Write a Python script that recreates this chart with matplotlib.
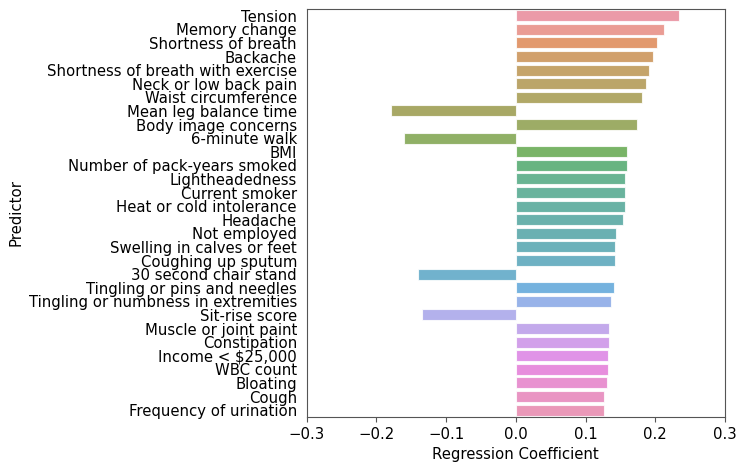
import matplotlib
matplotlib.use("Agg")
import matplotlib.pyplot as plt
import seaborn as sns
import pandas as pd

predictors = [
    "Tension", "Memory change", "Shortness of breath", "Backache",
    "Shortness of breath with exercise", "Neck or low back pain",
    "Waist circumference", "Mean leg balance time", "Body image concerns",
    "6-minute walk", "BMI", "Number of pack-years smoked", "Lightheadedness",
    "Current smoker", "Heat or cold intolerance", "Headache", "Not employed",
    "Swelling in calves or feet", "Coughing up sputum", "30 second chair stand",
    "Tingling or pins and needles", "Tingling or numbness in extremities",
    "Sit-rise score", "Muscle or joint paint", "Constipation",
    "Income < $25,000", "WBC count", "Bloating", "Cough",
    "Frequency of urination",
]
coefs = [
    0.234, 0.212, 0.203, 0.197, 0.191, 0.187, 0.181, -0.179, 0.173, -0.161,
    0.160, 0.159, 0.157, 0.156, 0.156, 0.153, 0.143, 0.142, 0.142, -0.141,
    0.140, 0.137, -0.135, 0.134, 0.133, 0.132, 0.132, 0.130, 0.127, 0.127,
]

df = pd.DataFrame({"Predictor": predictors, "Regression Coefficient": coefs})

fs = 10.7
fig, ax = plt.subplots(figsize=(7.46, 4.69), dpi=100)
sns.barplot(data=df, x="Regression Coefficient", y="Predictor",
            hue="Predictor", palette="husl", legend=False, ax=ax,
            alpha=0.8, edgecolor="white", linewidth=0.8)
ax.set_xlim(-0.3, 0.3)
ax.set_xticks([-0.3, -0.2, -0.1, 0.0, 0.1, 0.2, 0.3])
ax.tick_params(labelsize=fs)
ax.tick_params(axis="y", left=False)
for s in ax.spines.values():
    s.set_color("#555555")
ax.tick_params(axis="x", color="#555555")
ax.set_xlabel("Regression Coefficient", fontsize=fs)
ax.set_ylabel("Predictor", fontsize=fs)
fig.subplots_adjust(left=0.411, right=0.972, top=0.981, bottom=0.111)
fig.savefig("out.png", dpi=100)
